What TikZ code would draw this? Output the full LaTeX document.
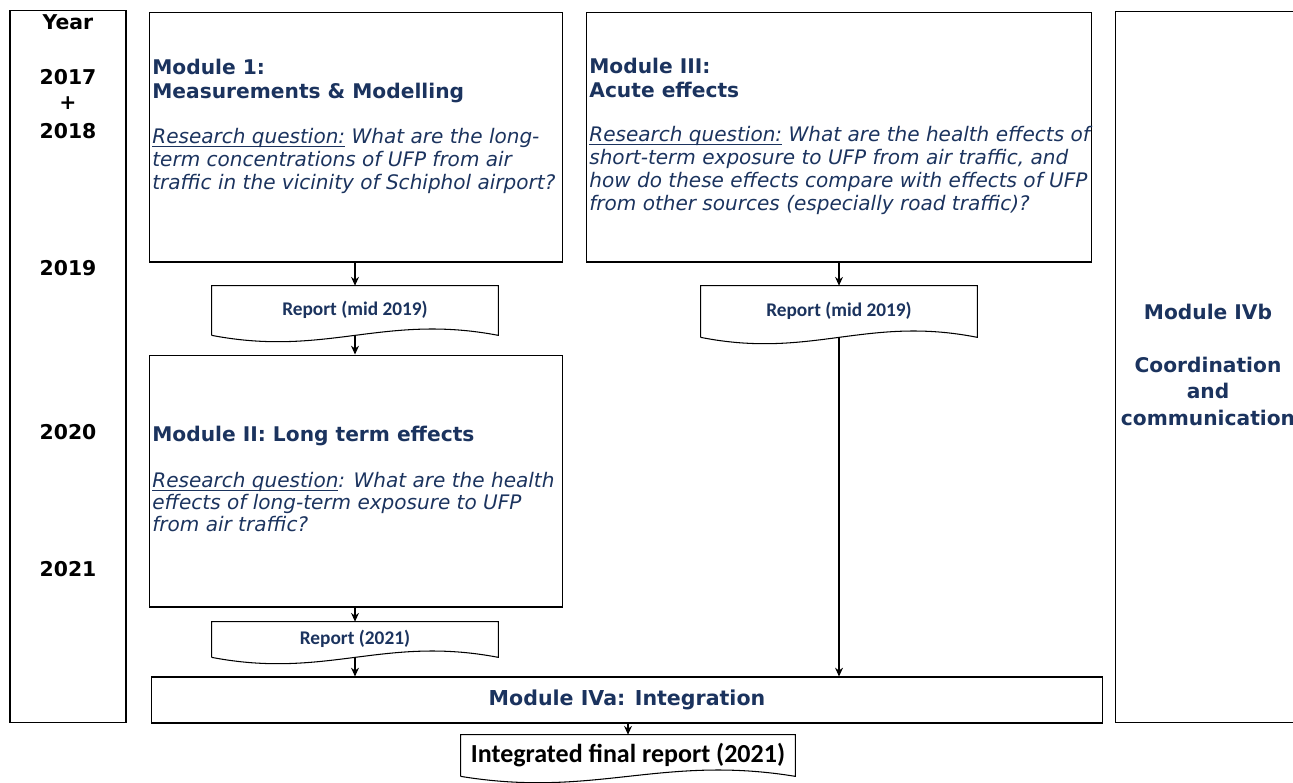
\documentclass[tikz,border=0pt]{standalone}
\usepackage{fontspec}
\setmainfont{DejaVu Sans}
\newfontfamily\calfont{Carlito}
\usepackage{tikz}
\usetikzlibrary{positioning,calc,arrows.meta}

\definecolor{navy}{HTML}{1B335E}
\newcommand{\rqunder}[1]{\underline{\smash{#1}}}

\tikzset{
  box/.style={draw=black, line width=0.6pt, inner sep=0pt},
  report/.style={inner sep=0pt, text=navy, text depth=3pt, font=\calfont\bfseries\fontsize{11}{13}\selectfont},
  title/.style={anchor=north west, inner sep=0pt, align=left, text=navy, font=\bfseries\fontsize{11.5}{13.6}\selectfont},
  question/.style={anchor=north west, inner sep=0pt, align=left, text=navy, font=\itshape\fontsize{11.4}{13}\selectfont},
  year/.style={inner sep=0pt, font=\bfseries\fontsize{11.6}{13}\selectfont},
  flow/.style={-{Stealth[length=5pt,width=4.5pt]}, line width=0.6pt},
}

% outline of a report (document shape with a wavy bottom)
\newcommand{\reportshape}[1]{%
  \draw[line width=0.6pt] (#1.south west) -- (#1.north west) -- (#1.north east) -- (#1.south east)
    .. controls ($(#1.south east)!0.4!(#1.south west)+(0,-22)$) and ($(#1.south west)!0.4!(#1.south east)+(0,22)$) .. (#1.south west);}

\begin{document}
\begin{tikzpicture}[x=0.02cm, y=-0.02cm]
  \useasboundingbox (0,0) rectangle (1293,782);

  % columns
  \node[box, minimum width=2.32cm, minimum height=14.26cm] (years) at (68,366.5) {};
  \node[box, minimum width=4.1cm, minimum height=14.24cm] (mod4b) at (1217.5,367) {};
  \foreach \yy/\lbl [count=\i] in {22/Year, 77/2017, 103/+, 131/2018, 268/2019, 432/2020, 569/2021}
    \node[year] (yr\i) at (68,\yy) {\lbl};
  \node[inner sep=0pt, align=center, text=navy, font=\bfseries\fontsize{11.5}{15}\selectfont] (mod4btxt) at (1208,365)
    {Module IVb\\[15pt]Coordination\\and\\communication};

  % modules
  \node[box, minimum width=8.28cm, minimum height=5cm] (mod1) at (356,137) {};
  \node[title] (mod1t) at (152,59) {Module 1:\\Measurements \& Modelling};
  \node[question] (mod1q) at (152,128) {\rqunder{Research question:} What are the long-\\term concentrations of UFP from air\\traffic in the vicinity of Schiphol airport?};

  \node[box, minimum width=10.12cm, minimum height=5cm] (mod3) at (839,137) {};
  \node[title] (mod3t) at (589,58) {Module III:\\Acute effects};
  \node[question] (mod3q) at (589,126) {\rqunder{Research question:} What are the health effects of\\short-term exposure to UFP from air traffic, and\\how do these effects compare with effects of UFP\\from other sources (especially road traffic)?};

  \node[box, minimum width=8.28cm, minimum height=5.04cm] (mod2) at (356,481) {};
  \node[title] (mod2t) at (152,426) {Module II: Long term effects};
  \node[question, font=\itshape\fontsize{11.4}{12.5}\selectfont] (mod2q) at (152,472) {\rqunder{Research question}: What are the health\\effects of long-term exposure to UFP\\from air traffic?};

  \node[box, minimum width=19.04cm, minimum height=0.92cm, text=navy, font=\bfseries\fontsize{11.7}{13}\selectfont] (mod4a) at (627,700) {Module IVa: Integration};

  % reports
  \node[report, minimum width=5.72cm, minimum height=0.98cm] (rep1) at (355,310.5) {Report (mid 2019)};
  \node[report, minimum width=5.52cm, minimum height=1.02cm] (rep3) at (839,311.5) {Report (mid 2019)};
  \node[report, minimum width=5.72cm, minimum height=0.7cm] (rep2) at (355,639.5) {Report (2021)};
  \node[report, text=black, minimum width=6.68cm, minimum height=0.82cm, font=\calfont\bfseries\fontsize{14.8}{16}\selectfont] (final) at (628,755.5) {Integrated final report (2021)};
  \foreach \r in {rep1, rep3, rep2, final}
    \reportshape{\r};

  % flow
  \draw[flow] (rep1.north |- mod1.south) -- (rep1.north);
  \draw[flow] (rep1.south) -- (rep1.south |- mod2.north);
  \draw[flow] (rep2.north |- mod2.south) -- (rep2.north);
  \draw[flow] (rep2.south) -- (rep2.south |- mod4a.north);
  \draw[flow] (rep3.north |- mod3.south) -- (rep3.north);
  \draw[flow] (rep3.south) -- (rep3.south |- mod4a.north);
  \draw[flow] (final.north |- mod4a.south) -- (final.north);
\end{tikzpicture}
\end{document}
